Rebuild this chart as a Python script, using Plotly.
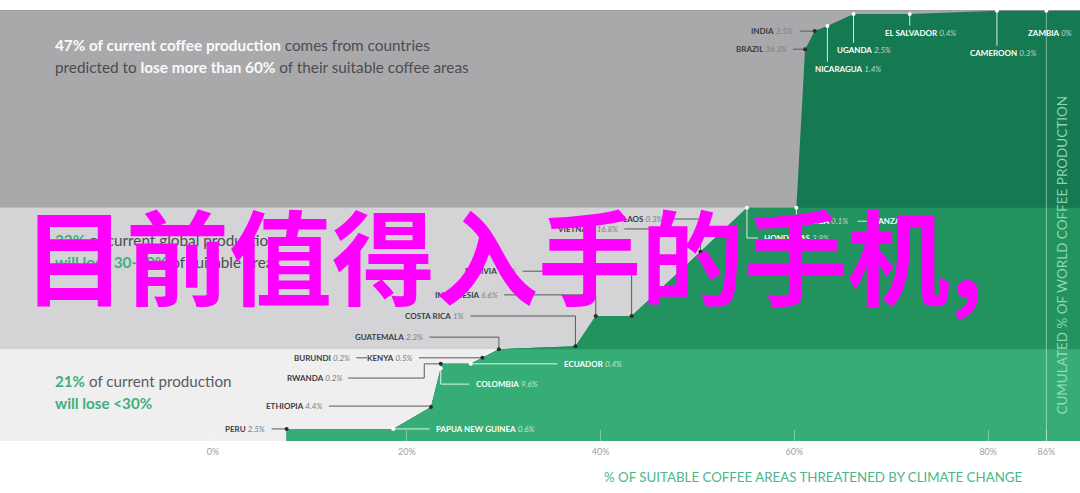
import plotly.graph_objects as go

# ---------------- data ----------------
countries = ["PERU", "PAPUA NEW GUINEA", "ETHIOPIA", "COLOMBIA", "RWANDA", "ECUADOR",
             "KENYA", "GUATEMALA", "COSTA RICA", "INDONESIA", "BOLIVIA", "VIETNAM",
             "LAOS", "HONDURAS", "CUBA", "BRAZIL", "INDIA", "NICARAGUA", "UGANDA",
             "EL SALVADOR", "CAMEROON", "ZAMBIA"]
shares = ["2.5%", "0.6%", "4.4%", "9.6%", "0.2%", "0.4%", "0.5%", "2.3%", "1%", "6.6%",
          "0.1%", "16.8%", "0.3%", "3.9%", "0.1%", "36.3%", "3.5%", "1.4%", "2.5%",
          "0.4%", "0.3%", "0%"]
# % of suitable coffee areas threatened
threat = [7.6, 18.6, 22.5, 23.5, 23.5, 26.6, 27.8, 29.5, 37.4, 39.5, 43.2, 48.2, 50.3,
          55.1, 60.2, 61.1, 62.1, 63.4, 66.1, 71.9, 80.9, 86.0]
# cumulated % of world coffee production
cumulative = [2.8, 2.8, 7.9, 16.9, 17.9, 17.9, 19.3, 21.3, 22.0, 29.0, 29.0, 39.4, 43.9,
              54.1, 54.1, 90.9, 95.1, 96.3, 99.1, 99.1, 99.8, 99.8]
on_green = [False, True, False, True, False, True, False, False, False, False, False,
            False, False, True, True, False, False, True, True, True, True, True]
band_last_country = ["GUATEMALA", "CUBA"]          # last country of the <30% and 30-60% groups
extra_labels = [("BURUNDI", "0.2%"), ("TANZANIA", "0.8%")]

tick_vals = [0, 20, 40, 60, 80, 86]
tick_text = ["0%", "20%", "40%", "60%", "80%", "86%"]

# ---------------- styling / layout ----------------
X_RANGE = [-21.98, 89.47]
X_FAR = 120
GRAYS = ["#efeff0", "#d4d4d6", "#a9a9ac"]
GREENS = ["#36ad76", "#22935f", "#157a52"]
GREEN_TEXT = "#3fae7e"
FONT = "Lato"

# label placement: kind, label x, label y, optional elbow x
# L = dark label left of the point, R = white label right of the point,
# T = white label under the point (vertical leader), F = full-height leader
label_layout = {
    "PERU": ("L", 5.6, 2.8, None),
    "ETHIOPIA": ("L", 11.5, 8.1, None),
    "RWANDA": ("L", 13.5, 14.6, 21.8),
    "KENYA": ("L", 20.8, 19.3, None),
    "GUATEMALA": ("L", 21.9, 24.1, None),
    "COSTA RICA": ("L", 26.1, 29.0, None),
    "INDONESIA": ("L", 29.6, 33.9, None),
    "BOLIVIA": ("L", 31.5, 39.4, None),
    "VIETNAM": ("L", 42.0, 49.2, None),
    "LAOS": ("L", 46.6, 51.5, None),
    "BRAZIL": ("L", 59.4, 90.9, None),
    "INDIA": ("L", 60.1, 95.1, None),
    "PAPUA NEW GUINEA": ("R", 22.8, 2.8, None),
    "COLOMBIA": ("R", 26.9, 13.2, None),
    "ECUADOR": ("R", 36.0, 17.9, None),
    "HONDURAS": ("R", 56.7, 47.1, None),
    "CUBA": ("R", 61.1, 51.0, None),
    "NICARAGUA": ("T", 61.9, 86.3, None),
    "UGANDA": ("T", 64.2, 90.7, None),
    "EL SALVADOR": ("T", 69.1, 94.7, None),
    "CAMEROON": ("T", 77.9, 90.0, None),
    "ZAMBIA": ("F", 83.9, 94.7, None),
}
# extra labels: x, y, dash from, dash to
extra_layout = {
    "BURUNDI": ("L", 14.3, 19.3, 14.8, 15.9),
    "TANZANIA": ("R", 68.0, 51.0, 66.5, 67.5),
}
GAP = 0.45
VGAP = 1.7

fig = go.Figure()

# ---- background bands ----
idx_last = [countries.index(c) for c in band_last_country]
band_edges = [0] + [cumulative[i] for i in idx_last] + [100]
shapes = []
for k in range(3):
    shapes.append(dict(type="rect", xref="paper", yref="y", x0=0, x1=1,
                       y0=band_edges[k], y1=band_edges[k + 1],
                       fillcolor=GRAYS[k], line=dict(width=0), layer="below"))
shapes.append(dict(type="line", xref="paper", yref="y", x0=0, x1=1, y0=100, y1=100,
                   line=dict(color="#9c9ca0", width=1.5), layer="below"))

# ---- green areas (top colour first, then lower bands over it) ----
start = (threat[0], 0)
for k, last in [(2, len(countries) - 1), (1, idx_last[1]), (0, idx_last[0])]:
    xs = [start[0]] + threat[:last + 1] + [X_FAR, X_FAR, start[0]]
    ys = [start[1]] + cumulative[:last + 1] + [cumulative[last], 0, 0]
    fig.add_trace(go.Scatter(x=xs, y=ys, mode="lines", fill="toself",
                             fillcolor=GREENS[k], line=dict(width=0, color=GREENS[k]),
                             hoverinfo="skip", showlegend=False))

# ---- leader lines ----
dk_x, dk_y, wt_x, wt_y, fz_x, fz_y = [], [], [], [], [], []
for name, (kind, lx, ly, ex) in label_layout.items():
    i = countries.index(name)
    px, py = threat[i], cumulative[i]
    if kind == "L":
        ex = px if ex is None else ex
        dk_x += [lx + GAP, ex, ex, px, None]
        dk_y += [ly, ly, py, py, None]
    elif kind == "R":
        wt_x += [px, px, lx - GAP, None]
        wt_y += [py, ly, ly, None]
    elif kind == "T":
        wt_x += [px, px, None]
        wt_y += [py, ly + VGAP, None]
    else:
        fz_x += [px, px, None]
        fz_y += [py, 0, None]
for name, (kind, lx, ly, d0, d1) in extra_layout.items():
    if kind == "L":
        dk_x += [d0, d1, None]
        dk_y += [ly, ly, None]
    else:
        wt_x += [d0, d1, None]
        wt_y += [ly, ly, None]

fig.add_trace(go.Scatter(x=dk_x, y=dk_y, mode="lines", line=dict(color="#5a5a5e", width=1),
                         hoverinfo="skip", showlegend=False))
fig.add_trace(go.Scatter(x=wt_x, y=wt_y, mode="lines",
                         line=dict(color="rgba(255,255,255,0.85)", width=1),
                         hoverinfo="skip", showlegend=False))
fig.add_trace(go.Scatter(x=fz_x, y=fz_y, mode="lines",
                         line=dict(color="rgba(255,255,255,0.45)", width=1),
                         hoverinfo="skip", showlegend=False))

# ---- points ----
fig.add_trace(go.Scatter(
    x=threat, y=cumulative, mode="markers",
    marker=dict(size=4, color=["#ffffff" if g else "#2b2b2e" for g in on_green]),
    hoverinfo="skip", showlegend=False))

# ---- labels ----
annotations = []


def label_text(name, share, white):
    if white:
        return (f"<span style='color:#ffffff'><b>{name}</b></span> "
                f"<span style='color:rgba(255,255,255,0.7)'><i>{share}</i></span>")
    return (f"<span style='color:#3c3c40'><b>{name}</b></span> "
            f"<span style='color:#7c7c80'><i>{share}</i></span>")


for name, (kind, lx, ly, ex) in label_layout.items():
    i = countries.index(name)
    annotations.append(dict(
        x=lx, y=ly, xref="x", yref="y", showarrow=False,
        xanchor="right" if kind == "L" else "left", yanchor="middle",
        text=label_text(name, shares[i], on_green[i]),
        font=dict(family=FONT, size=8)))
for name, share in extra_labels:
    kind, lx, ly, d0, d1 = extra_layout[name]
    annotations.append(dict(
        x=lx, y=ly, xref="x", yref="y", showarrow=False,
        xanchor="right" if kind == "L" else "left", yanchor="middle",
        text=label_text(name, share, kind == "R"),
        font=dict(family=FONT, size=8)))

# ---- group descriptions ----
def para(text, y, size=15.3):
    annotations.append(dict(x=0.049, y=y, xref="paper", yref="paper", showarrow=False,
                            xanchor="left", yanchor="middle", text=text,
                            font=dict(family=FONT, size=size, color="#4c4c52")))


para("<span style='color:#fafafa'><b>47% of current coffee production</b></span> comes from countries", 0.919)
para("predicted to <span style='color:#fafafa'><b>lose more than 60%</b></span> of their suitable coffee areas", 0.868)
para(f"<span style='color:{GREEN_TEXT}'><b>32%</b></span> of current global production", 0.466)
para(f"<span style='color:{GREEN_TEXT}'><b>will lose 30-60%</b></span> of suitable areas", 0.415)
para(f"<span style='color:{GREEN_TEXT}'><b>21%</b></span> <span style='color:#5a5a5e'>of current production</span>", 0.139, 15.2)
para(f"<span style='color:{GREEN_TEXT}'><b>will lose &lt;30%</b></span>", 0.088, 15.2)

# ---- axis titles ----
annotations.append(dict(x=0.753, y=-0.0835, xref="paper", yref="paper", showarrow=False,
                        xanchor="center", yanchor="middle",
                        text="% OF SUITABLE COFFEE AREAS THREATENED BY CLIMATE CHANGE",
                        font=dict(family=FONT, size=13.3, color="#4cb68a")))
annotations.append(dict(x=0.983, y=0.4316, xref="paper", yref="paper", showarrow=False,
                        xanchor="center", yanchor="middle", textangle=-90,
                        text="CUMULATED % OF WORLD COFFEE PRODUCTION",
                        font=dict(family=FONT, size=13.5, color="rgba(165,228,195,0.85)")))

# ---- overlay headline ----
annotations.append(dict(x=0.466, y=0.434, xref="paper", yref="paper", showarrow=False,
                        xanchor="center", yanchor="middle",
                        text="<b>目前值得入手的手机,</b>",
                        font=dict(family="Noto Sans CJK SC", size=103, color="#ff00ff")))

fig.update_layout(
    width=1080, height=493,
    margin=dict(l=0, r=0, t=10, b=52),
    paper_bgcolor="white", plot_bgcolor="white",
    shapes=shapes, annotations=annotations, showlegend=False,
    xaxis=dict(range=X_RANGE, tickvals=tick_vals, ticktext=tick_text,
               ticks="inside", ticklen=11, tickcolor="rgba(255,255,255,0.35)",
               tickfont=dict(family=FONT, size=9, color="#a0a0a4"),
               ticklabelstandoff=4,
               showgrid=False, zeroline=False, showline=False, fixedrange=True),
    yaxis=dict(range=[0, 100], visible=False, fixedrange=True),
)

fig.write_html("out.html", config={"displayModeBar": False},
               post_script="document.body.style.margin='0';document.body.style.overflow='hidden';")
